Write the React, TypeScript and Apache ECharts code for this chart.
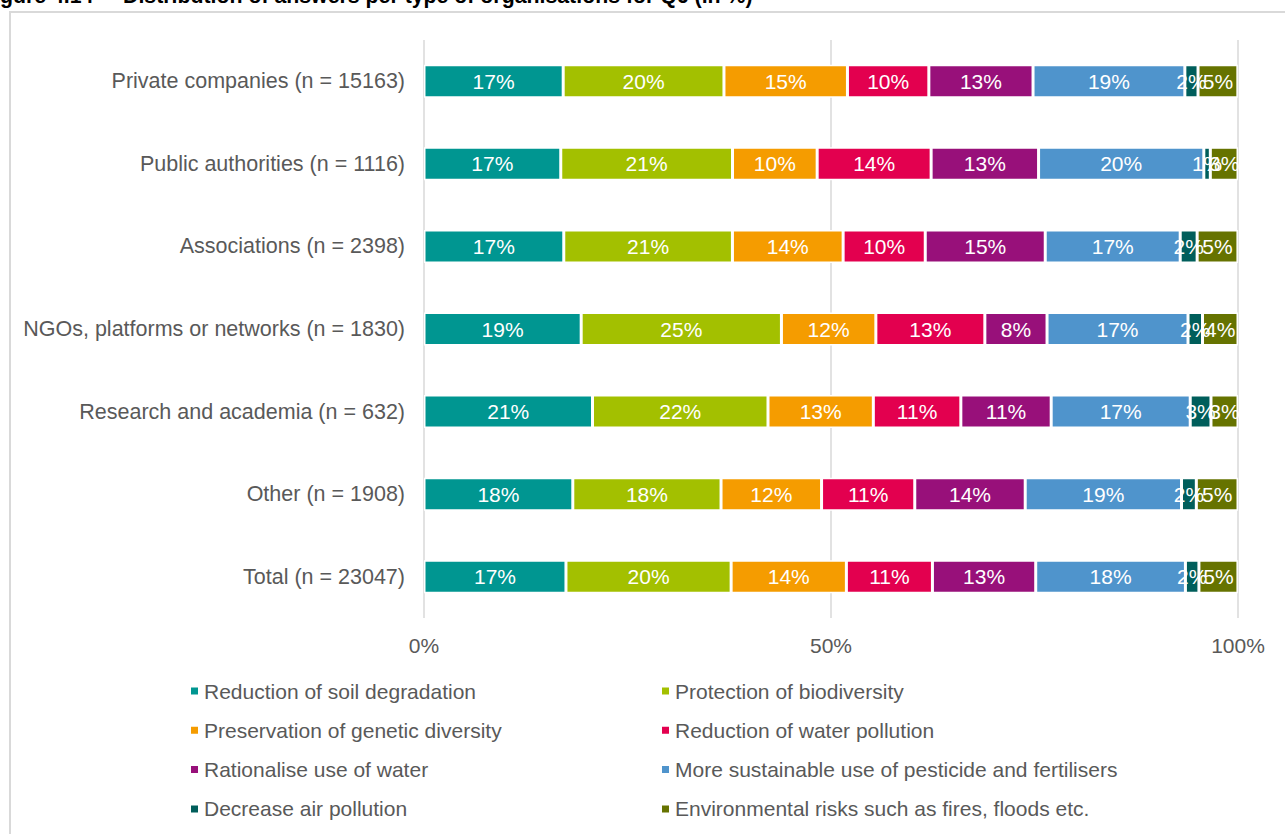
import React, { useEffect, useRef } from "react";
import * as echarts from "echarts";

const categories = [
  "Private companies (n = 15163)",
  "Public authorities (n = 1116)",
  "Associations (n = 2398)",
  "NGOs, platforms or networks (n = 1830)",
  "Research and academia (n = 632)",
  "Other (n = 1908)",
  "Total (n = 23047)",
];

const seriesNames = [
  "Reduction of soil degradation",
  "Protection of biodiversity",
  "Preservation of genetic diversity",
  "Reduction of water pollution",
  "Rationalise use of water",
  "More sustainable use of pesticide and fertilisers",
  "Decrease air pollution",
  "Environmental risks such as fires, floods etc.",
];

const soil = [17.1, 16.8, 17.17, 19.31, 20.7, 18.28, 17.44];
const biodiversity = [19.75, 21.1, 20.72, 24.6, 21.56, 18.21, 20.29];
const genetic = [15.17, 10.4, 13.6, 11.6, 12.94, 12.35, 14.16];
const waterPollution = [10.0, 14.0, 10.09, 13.39, 10.75, 11.45, 10.57];
const waterUse = [12.8, 13.2, 14.74, 7.64, 11.1, 13.57, 12.69];
const pesticide = [18.65, 20.3, 16.58, 17.32, 17.08, 19.2, 18.39];
const airPollution = [1.62, 0.8, 2.08, 1.78, 2.55, 1.82, 1.66];
const risks = [4.89, 3.4, 5.01, 4.36, 3.32, 5.12, 4.79];

const allValues = [soil, biodiversity, genetic, waterPollution, waterUse, pesticide, airPollution, risks];

const colors = ["#009691", "#A3C000", "#F59C00", "#E3004F", "#98107A", "#4F94CC", "#005E5B", "#667300"];

const xTicks = [0, 50, 100];

const FONT = "'Liberation Sans', Arial, sans-serif";

export default function App() {
  const ref = useRef<HTMLDivElement>(null);

  useEffect(() => {
    document.body.style.margin = "0";
    if (!ref.current) return;
    const chart = echarts.init(ref.current, null, { renderer: "svg" });

    const series = seriesNames.map((name, i) => ({
      name,
      type: "bar",
      stack: "total",
      barWidth: 33,
      data: allValues[i],
      itemStyle: { color: colors[i], borderColor: "#ffffff", borderWidth: 1.5 },
      label: {
        show: true,
        position: "inside",
        color: "#ffffff",
        fontSize: 21,
        fontFamily: FONT,
        formatter: (p: any) => Math.round(p.value) + "%",
      },
    }));

    const legendText = { color: "#595959", fontSize: 21, lineHeight: 24, fontFamily: FONT };

    chart.setOption({
      animation: false,
      textStyle: { fontFamily: FONT },
      grid: { left: 424, top: 40, width: 814, height: 578, containLabel: false },
      xAxis: {
        type: "value",
        min: xTicks[0],
        max: xTicks[xTicks.length - 1],
        interval: xTicks[1] - xTicks[0],
        axisLine: { show: false },
        axisTick: { show: false },
        splitLine: { show: true, lineStyle: { color: "#d9d9d9", width: 1.5 } },
        axisLabel: {
          formatter: "{value}%",
          color: "#595959",
          fontSize: 21,
          fontFamily: FONT,
          margin: 17,
        },
      },
      yAxis: {
        type: "category",
        data: categories,
        inverse: true,
        axisLine: { show: false },
        axisTick: { show: false },
        axisLabel: { color: "#595959", fontSize: 21.5, fontFamily: FONT, margin: 19 },
      },
      legend: [
        {
          orient: "vertical",
          left: 189,
          top: 679,
          padding: 0,
          itemWidth: 9,
          itemHeight: 9,
          itemGap: 15.3,
          icon: "rect",
          data: [seriesNames[0], seriesNames[2], seriesNames[4], seriesNames[6]],
          textStyle: legendText,
        },
        {
          orient: "vertical",
          left: 660,
          top: 679,
          padding: 0,
          itemWidth: 9,
          itemHeight: 9,
          itemGap: 15.3,
          icon: "rect",
          data: [seriesNames[1], seriesNames[3], seriesNames[5], seriesNames[7]],
          textStyle: legendText,
        },
      ],
      graphic: [
        {
          type: "rect",
          shape: { x: 10, y: 12, width: 1400, height: 1000 },
          style: { fill: "none", stroke: "#d9d9d9", lineWidth: 2 },
          silent: true,
        },
        {
          type: "text",
          x: -19,
          y: 6,
          style: {
            text: "Figure 4.14",
            fontSize: 21.3,
            fontWeight: "bold",
            fontFamily: FONT,
            fill: "#000000",
            verticalAlign: "bottom",
          },
        },
        {
          type: "text",
          x: 123,
          y: 6,
          style: {
            text: "Distribution of answers per type of organisations for Q6 (in %)",
            fontSize: 21.3,
            fontWeight: "bold",
            fontFamily: FONT,
            fill: "#000000",
            verticalAlign: "bottom",
          },
        },
      ],
      series,
    });

    return () => {
      chart.dispose();
    };
  }, []);

  return <div ref={ref} style={{ width: 1285, height: 834 }} />;
}
